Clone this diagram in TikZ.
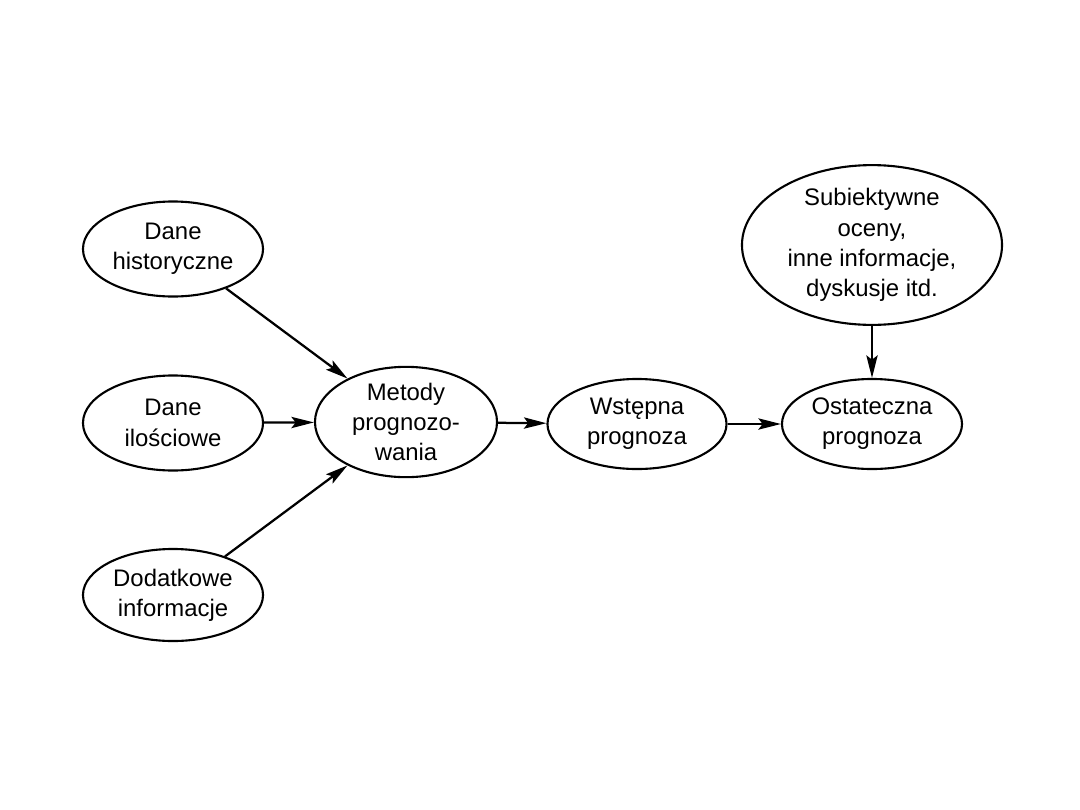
\documentclass[tikz,border=0pt]{standalone}
\usepackage{fontspec}
\setmainfont{Liberation Sans}
\usepackage{tikz}
\usetikzlibrary{arrows.meta, positioning, shapes.geometric}

\begin{document}
\begin{tikzpicture}[x=0.025cm, y=-0.025cm,
    blob/.style={draw, ellipse, line width=1.5pt, inner sep=0pt, align=center,
        font=\fontsize{17}{21.5}\selectfont},
    flow/.style={-{Stealth[length=16pt, width=8pt, inset=3pt]}, line width=1.6pt}]
    \useasboundingbox (0,0) rectangle (1080,810);

    % dane wejściowe
    \node[blob, minimum width=4.5cm, minimum height=2.375cm] (hist) at (173,249) {Dane\\historyczne};
    \node[blob, minimum width=4.5cm, minimum height=2.375cm] (ilosc) at (173,423) {Dane\\ilościowe};
    \node[blob, minimum width=4.5cm, minimum height=2.3cm] (dodat) at (173,595) {Dodatkowe\\informacje};

    % przetwarzanie
    \node[blob, minimum width=4.55cm, minimum height=2.45cm] (metody) at (406,422) {Metody\\prognozo-\\wania};
    \node[blob, minimum width=4.475cm, minimum height=2.25cm] (wstep) at (637,424) {Wstępna\\prognoza};
    \node[blob, minimum width=4.5cm, minimum height=2.25cm] (ostat) at (872,424) {Ostateczna\\prognoza};

    % ocena ekspercka
    \node[blob, minimum width=6.5cm, minimum height=3.7cm] (subiekt) at (872,245) {Subiektywne\\oceny,\\inne informacje,\\dyskusje itd.};

    % połączenia
    \draw[flow] (hist) -- (metody);
    \draw[flow] (ilosc) -- (metody);
    \draw[flow] (dodat) -- (metody);
    \draw[flow] (metody) -- (wstep);
    \draw[flow] (wstep) -- (ostat);
    \draw[flow] (subiekt) -- (ostat);
\end{tikzpicture}
\end{document}
